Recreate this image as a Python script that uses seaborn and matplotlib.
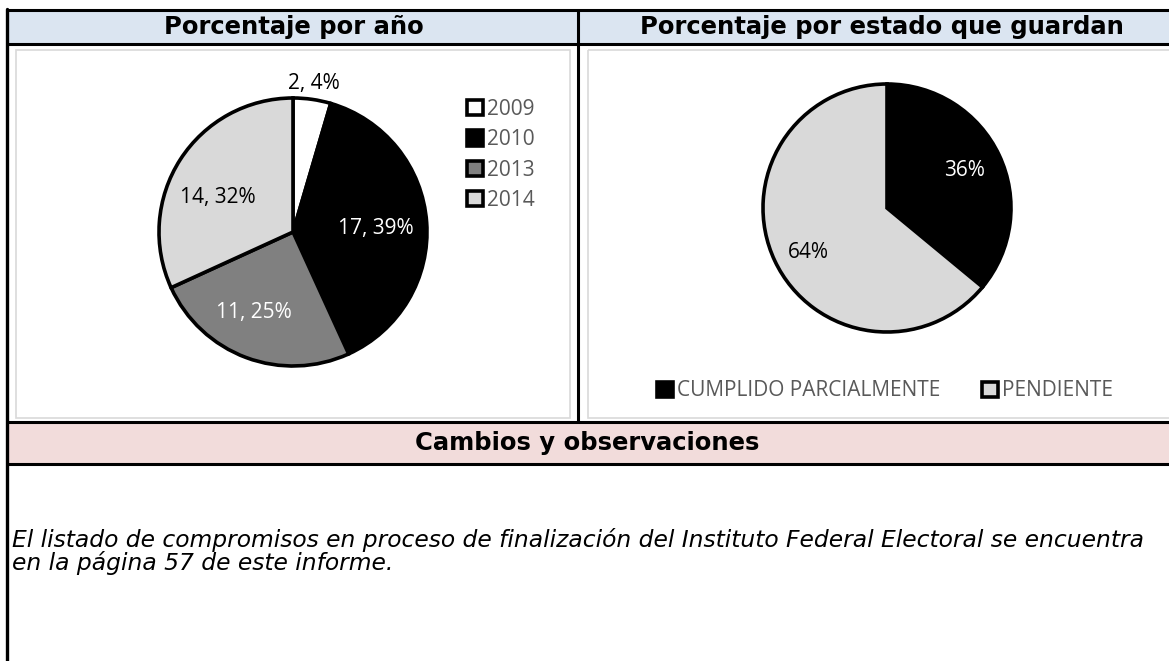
import matplotlib
matplotlib.use("Agg")
import matplotlib.pyplot as plt
from matplotlib.patches import Rectangle, Patch
import numpy as np
import seaborn as sns

# data
years = ["2009", "2010", "2013", "2014"]
year_counts = [2, 17, 11, 14]
year_pct = [4, 39, 25, 32]

status = ["CUMPLIDO PARCIALMENTE", "PENDIENTE"]
status_pct = [36, 64]

header_left = "Porcentaje por año"
header_right = "Porcentaje por estado que guardan"
band_title = "Cambios y observaciones"
note = ("El listado de compromisos en proceso de finalización del Instituto Federal Electoral se encuentra\n"
        "en la página 57 de este informe.")

# styles
year_colors = ["#FFFFFF", "#000000", "#808080", "#D9D9D9"]
year_text = ["#000000", "#FFFFFF", "#FFFFFF", "#000000"]
year_dist = [1.12, 0.62, 0.67, 0.62]
year_shift = [0, -1.6, -5.3, 8]
status_colors = ["#000000", "#D9D9D9"]
status_text = ["#FFFFFF", "#000000"]
status_dist = [0.69, 0.73]
status_shift = [0.6, 4.3]

sns.set_theme(style="white")
plt.rcParams["font.family"] = ["Open Sans", "DejaVu Sans"]

W, H = 1169, 661
fig = plt.figure(figsize=(W / 100, H / 100), dpi=100)

# table background drawn in pixel coordinates
bg = fig.add_axes([0, 0, 1, 1])
bg.set_xlim(0, W)
bg.set_ylim(H, 0)
bg.axis("off")

bg.add_patch(Rectangle((7, 10), W, 34, fc="#DBE5F1", ec="none"))
bg.add_patch(Rectangle((7, 422), W, 42, fc="#F2DCDB", ec="none"))
bg.add_patch(Rectangle((16, 50), 554, 368, fill=False, ec="#D9D9D9", lw=1.2))
bg.add_patch(Rectangle((588, 50), 700, 368, fill=False, ec="#D9D9D9", lw=1.2))

for y in [10, 44, 422, 464]:
    bg.plot([7, W], [y, y], color="black", lw=2.2, solid_capstyle="butt")
bg.plot([7, 7], [9, H], color="black", lw=2.4)
bg.plot([578, 578], [10, 422], color="black", lw=2.2)

hfont = dict(family=["DejaVu Sans"], fontweight="bold", fontsize=17.5, color="black")
bg.text(294, 27, header_left, ha="center", va="center", **hfont)
bg.text(882, 27, header_right, ha="center", va="center", **hfont)
bg.text(587, 443, band_title, ha="center", va="center", **hfont)
bg.text(12, 528, note, ha="left", va="top", fontsize=16.8, style="italic",
        family=["DejaVu Sans"], color="black", linespacing=0.95)


def pie_axes(cx, cy, r):
    pad = 1.05
    return fig.add_axes([(cx - r * pad) / W, (H - cy - r * pad) / H, 2 * r * pad / W, 2 * r * pad / H])


def draw_pie(ax, values, colors, labels, tcolors, dists, shifts):
    wedges, _ = ax.pie(values, colors=colors, startangle=90, counterclock=False,
                       wedgeprops=dict(edgecolor="black", linewidth=2.6))
    ax.set_xlim(-1.05, 1.05)
    ax.set_ylim(-1.05, 1.05)
    for w, lab, c, d, s in zip(wedges, labels, tcolors, dists, shifts):
        ang = np.deg2rad((w.theta1 + w.theta2) / 2 + s)
        ax.text(d * np.cos(ang), d * np.sin(ang), lab, ha="center", va="center",
                fontsize=15, color=c)


ax1 = pie_axes(293, 232, 134)
draw_pie(ax1, year_counts, year_colors,
         [f"{c}, {p}%" for c, p in zip(year_counts, year_pct)], year_text, year_dist, year_shift)

ax2 = pie_axes(887, 208, 124)
draw_pie(ax2, status_pct, status_colors, [f"{p}%" for p in status_pct],
         status_text, status_dist, status_shift)

leg_kw = dict(frameon=False, handlelength=0.75, handleheight=0.75, handletextpad=0.2,
              fontsize=15, labelcolor="#595959", borderpad=0, borderaxespad=0)
h1 = [Patch(fc=c, ec="black", lw=2.6) for c in year_colors]
fig.legend(h1, years, loc="upper left", bbox_to_anchor=(467 / W, 1 - 99 / H),
           labelspacing=0.45, **leg_kw)
h2 = [Patch(fc=c, ec="black", lw=2.6) for c in status_colors]
fig.legend(h2, status, loc="center", bbox_to_anchor=(885 / W, 1 - 391 / H),
           ncol=2, columnspacing=2.0, **leg_kw)

fig.savefig("out.png", dpi=100)
